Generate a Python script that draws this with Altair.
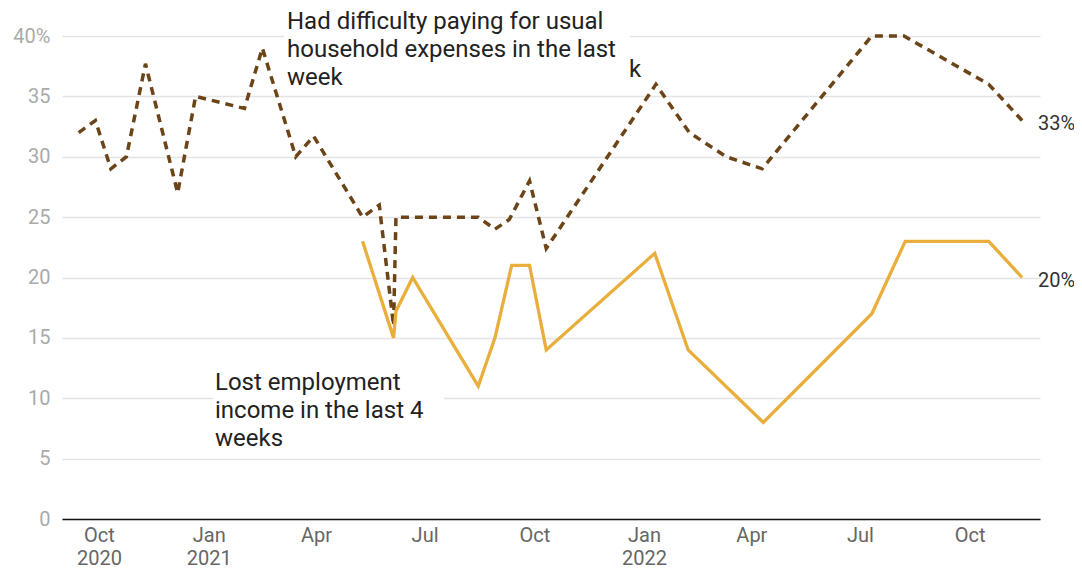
import altair as alt
import pandas as pd

# ---------------- data ----------------
hh_dates = ["2020-09-14", "2020-09-28", "2020-10-11", "2020-10-24", "2020-11-09",
            "2020-12-06", "2020-12-21", "2021-01-31", "2021-02-15", "2021-03-15",
            "2021-03-30", "2021-05-10", "2021-05-24", "2021-06-05", "2021-06-07",
            "2021-08-15", "2021-08-29", "2021-09-10", "2021-09-27", "2021-10-11",
            "2022-01-11", "2022-02-08", "2022-03-11", "2022-04-10", "2022-07-11",
            "2022-08-07", "2022-10-17", "2022-11-14"]
hh_values = [32, 33, 29, 30, 37.7, 27, 35, 34, 39, 30,
             31.7, 25, 26, 16, 25, 25, 24, 24.8, 28, 22.4,
             36, 32, 30, 29, 40, 40, 36, 33]

emp_dates = ["2021-05-10", "2021-06-05", "2021-06-07", "2021-06-21", "2021-08-15",
             "2021-08-29", "2021-09-12", "2021-09-27", "2021-10-11", "2022-01-10",
             "2022-02-07", "2022-04-11", "2022-07-11", "2022-08-08", "2022-10-17",
             "2022-11-14"]
emp_values = [23, 15, 17.2, 20, 11, 15, 21, 21, 14, 22, 14, 8, 17, 23, 23, 20]

y_ticks = [0, 5, 10, 15, 20, 25, 30, 35, 40]
x_tick_dates = [(2020, 10), (2021, 1), (2021, 4), (2021, 7), (2021, 10),
                (2022, 1), (2022, 4), (2022, 7), (2022, 10)]

hh_label = "Had difficulty paying for usual\nhousehold expenses in the last\nweek"
emp_label = "Lost employment\nincome in the last 4\nweeks"

BROWN = "#6b4418"
GOLD = "#e9ae3b"
FONT = "Roboto"

hh = pd.DataFrame({"date": [d + "T00:00:00" for d in hh_dates], "value": hh_values})
emp = pd.DataFrame({"date": [d + "T00:00:00" for d in emp_dates], "value": emp_values})

x_scale = alt.Scale(domain=[alt.DateTime(year=2020, month=8, date=31),
                            alt.DateTime(year=2022, month=11, date=29)])
y_scale = alt.Scale(domain=[0, 40], nice=False)

x_axis = alt.Axis(
    values=[alt.DateTime(year=y, month=m, date=1) for y, m in x_tick_dates],
    labelExpr="(month(datum.value) == 0 || (month(datum.value) == 9 && year(datum.value) == 2020)) ? [timeFormat(datum.value, '%b'), timeFormat(datum.value, '%Y')] : timeFormat(datum.value, '%b')",
    title=None, ticks=False, grid=False, domainColor="#111", domainWidth=1.5,
    labelFontSize=20, labelColor="#666", labelFont=FONT, labelPadding=6,
    labelLineHeight=23, labelAngle=0, labelOverlap=False, labelFlush=False,
)
y_axis = alt.Axis(
    values=y_ticks,
    labelExpr="datum.value == 40 ? '40%' : datum.label",
    title=None, ticks=False, domain=False, gridColor="#e4e4e4", gridWidth=1.5,
    labelFontSize=20, labelColor="#aaaaaa", labelFont=FONT, labelPadding=12,
)

one = pd.DataFrame({"a": [0]})

# white boxes behind annotation labels
box_top = alt.Chart(one).mark_rect(color="white").encode(
    x=alt.value(222), x2=alt.value(568), y=alt.value(-28), y2=alt.value(58))
box_low = alt.Chart(one).mark_rect(color="white").encode(
    x=alt.value(151), x2=alt.value(382), y=alt.value(330), y2=alt.value(418))

line_hh = alt.Chart(hh).mark_line(
    color=BROWN, strokeWidth=3.5, strokeDash=[8, 6], strokeCap="butt"
).encode(x=alt.X("date:T", scale=x_scale, axis=x_axis),
         y=alt.Y("value:Q", scale=y_scale, axis=y_axis))

line_emp = alt.Chart(emp).mark_line(color=GOLD, strokeWidth=3.3).encode(
    x=alt.X("date:T", scale=x_scale), y=alt.Y("value:Q", scale=y_scale))

end_hh = alt.Chart(hh.tail(1).assign(lbl=lambda d: d["value"].map(lambda v: f"{v:g}%"))).mark_text(
    align="left", baseline="middle", dx=16, dy=3, fontSize=20, font=FONT, color="#333"
).encode(x="date:T", y="value:Q", text="lbl:N")
end_emp = alt.Chart(emp.tail(1).assign(lbl=lambda d: d["value"].map(lambda v: f"{v:g}%"))).mark_text(
    align="left", baseline="middle", dx=16, dy=3, fontSize=20, font=FONT, color="#333"
).encode(x="date:T", y="value:Q", text="lbl:N")

ann_df_top = pd.DataFrame({"t": [hh_label]})
ann_df_low = pd.DataFrame({"t": [emp_label]})
ann_top = alt.Chart(ann_df_top).mark_text(
    align="left", baseline="top", fontSize=24, lineHeight=28, font=FONT,
    color="#222", lineBreak="\n"
).encode(x=alt.value(225), y=alt.value(-26), text="t:N")
ann_low = alt.Chart(ann_df_low).mark_text(
    align="left", baseline="top", fontSize=24, lineHeight=28, font=FONT,
    color="#222", lineBreak="\n"
).encode(x=alt.value(153), y=alt.value(335), text="t:N")
ann_k = alt.Chart(one).mark_text(
    align="left", baseline="alphabetic", fontSize=24, font=FONT, color="#222"
).encode(x=alt.value(567), y=alt.value(41), text=alt.value("k"))

chart = alt.layer(
    box_top, box_low, line_hh, line_emp, end_hh, end_emp, ann_top, ann_low, ann_k
).properties(
    width=978, height=483,
    padding={"left": 54, "top": 28, "right": 34, "bottom": 52},
    autosize=alt.AutoSizeParams(type="none"),
    background="white",
).configure_view(stroke=None)

chart.save("out.html", embed_options={"renderer": "svg", "actions": False})
